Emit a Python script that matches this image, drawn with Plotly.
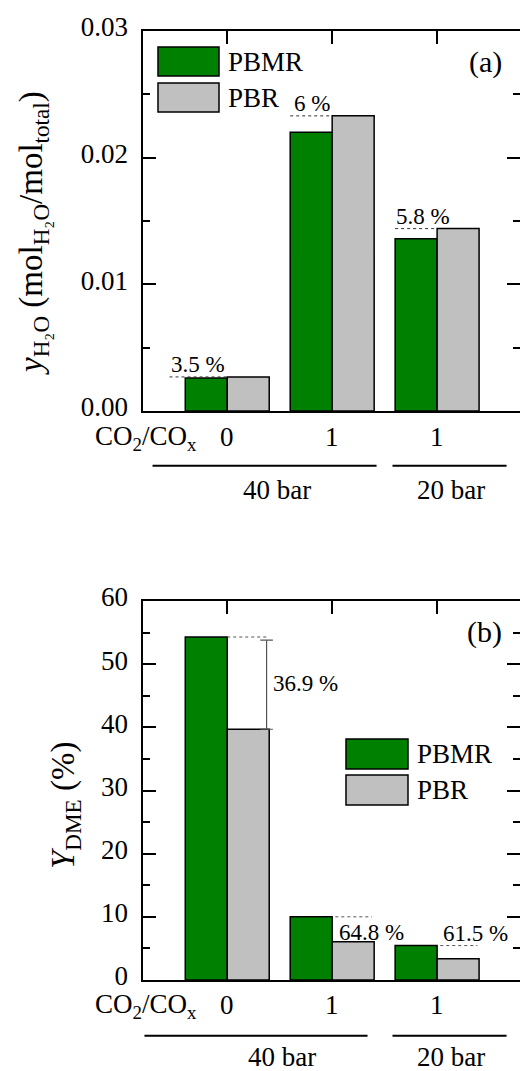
import plotly.graph_objects as go

# ---------------- data ----------------
cat_x = [0, 1, 2]
cat_labels = ["0", "1", "1"]
groups = ["40 bar", "20 bar"]

h2o_pbmr = [0.0026, 0.0220, 0.0136]
h2o_pbr = [0.00269, 0.0233, 0.0144]
h2o_pct = ["3.5 %", "6 %", "5.8 %"]

dme_pbmr = [54.3, 10.0, 5.45]
dme_pbr = [39.7, 6.07, 3.37]
dme_pct = ["36.9 %", "64.8 %", "61.5 %"]

top_ticks = [0.0, 0.01, 0.02, 0.03]
bot_ticks = [0, 10, 20, 30, 40, 50, 60]

# ---------------- style ----------------
W, H = 520, 1071
FONT = "Liberation Serif"
GREEN = "#008000"
GRAY = "#c0c0c0"


def px(x):
    return x / W


def py(y):
    return 1 - y / H


fig = go.Figure()
for vals_g, vals_r, xa, ya in [(h2o_pbmr, h2o_pbr, "x", "y"), (dme_pbmr, dme_pbr, "x2", "y2")]:
    fig.add_trace(go.Bar(x=cat_x, y=vals_g, name="PBMR", marker=dict(color=GREEN, line=dict(color="black", width=1.5)),
                         xaxis=xa, yaxis=ya, showlegend=False, offsetgroup="a"))
    fig.add_trace(go.Bar(x=cat_x, y=vals_r, name="PBR", marker=dict(color=GRAY, line=dict(color="black", width=1.5)),
                         xaxis=xa, yaxis=ya, showlegend=False, offsetgroup="b"))
# empty traces to register the right-hand tick axes
fig.add_trace(go.Scatter(x=[], y=[], xaxis="x", yaxis="y3", showlegend=False))
fig.add_trace(go.Scatter(x=[], y=[], xaxis="x2", yaxis="y4", showlegend=False))

xcommon = dict(range=[-0.8, 2.79], domain=[143.3 / W, 1.0], side="top", ticks="inside", tickvals=cat_x,
               ticklen=13, tickwidth=2, tickcolor="black", showticklabels=False, showline=True,
               linewidth=2, linecolor="black", mirror=True, showgrid=False, zeroline=False, automargin=False)
ycommon = dict(ticks="inside", ticklen=13, tickwidth=2, tickcolor="black", showline=True, linewidth=2,
               linecolor="black", mirror=False, showgrid=False, zeroline=False, automargin=False,
               tickfont=dict(family=FONT, size=27, color="black"), ticklabelshift=-4, ticklabelstandoff=8)
yright = dict(side="right", ticks="inside", ticklen=13, tickwidth=2, tickcolor="black", showline=False,
              showticklabels=False, showgrid=False, zeroline=False, automargin=False)

top_dom = [py(411), py(31)]
bot_dom = [py(980), py(601)]
top_minor = dict(ticks="inside", ticklen=7, tickwidth=2, tickcolor="black", tick0=0, dtick=0.005)
bot_minor = dict(ticks="inside", ticklen=7, tickwidth=2, tickcolor="black", tick0=0, dtick=5)

fig.update_layout(
    template="none",
    width=W, height=H, margin=dict(l=0, r=0, t=0, b=0, pad=0),
    paper_bgcolor="white", plot_bgcolor="white",
    barmode="group", bargap=0.2, bargroupgap=0,
    font=dict(family=FONT, size=27, color="black"),
    xaxis=dict(**xcommon, anchor="y"),
    xaxis2=dict(**xcommon, anchor="y2"),
    yaxis=dict(**ycommon, anchor="x", domain=top_dom, range=[0, 0.03], tickvals=top_ticks,
               tickformat=".2f", minor=top_minor),
    yaxis2=dict(**ycommon, anchor="x2", domain=bot_dom, range=[0, 60], tickvals=bot_ticks, minor=bot_minor),
    yaxis3=dict(**yright, anchor="x", overlaying="y", range=[0, 0.03], tickvals=top_ticks, minor=top_minor),
    yaxis4=dict(**yright, anchor="x2", overlaying="y2", range=[0, 60], tickvals=bot_ticks, minor=bot_minor),
)

shapes = []
ann = []

# ---- comparison markers, top panel (PBR above PBMR) ----
top_x0 = [-0.55, 0.6, 1.6]
top_lx = [-0.28, 0.81, 1.87]
for i in range(3):
    shapes.append(dict(type="line", xref="x", yref="y", x0=top_x0[i], x1=cat_x[i], y0=h2o_pbr[i], y1=h2o_pbr[i],
                       line=dict(color="#333333", width=1, dash="dot")))
    ann.append(dict(xref="x", yref="y", x=top_lx[i], y=h2o_pbr[i], text=h2o_pct[i], showarrow=False,
                    xanchor="center", yanchor="bottom", yshift=-2, font=dict(family=FONT, size=23)))

# ---- comparison markers, bottom panel ----
bx = 0.375
shapes.append(dict(type="line", xref="x2", yref="y2", x0=0, x1=bx + 0.02, y0=dme_pbmr[0], y1=dme_pbmr[0],
                   line=dict(color="#555555", width=1, dash="dot")))
shapes.append(dict(type="line", xref="x2", yref="y2", x0=bx, x1=bx, y0=dme_pbr[0], y1=dme_pbmr[0] - 0.5,
                   line=dict(color="#555555", width=1.2)))
for yy in [dme_pbr[0], dme_pbmr[0] - 0.5]:
    shapes.append(dict(type="line", xref="x2", yref="y2", x0=bx - 0.06, x1=bx + 0.06, y0=yy, y1=yy,
                       line=dict(color="#555555", width=1.2)))
ann.append(dict(xref="x2", yref="y2", x=bx + 0.04, y=(dme_pbr[0] + dme_pbmr[0]) / 2, text=dme_pct[0],
                showarrow=False, xanchor="left", yanchor="middle", font=dict(family=FONT, size=23)))
bot_x1 = [None, 1.38, 2.385]
bot_lx = [None, 1.37, 2.37]
bot_anchor = [None, "top", "bottom"]
for i in [1, 2]:
    shapes.append(dict(type="line", xref="x2", yref="y2", x0=cat_x[i] + 0.03, x1=bot_x1[i], y0=dme_pbmr[i],
                       y1=dme_pbmr[i], line=dict(color="#555555", width=1, dash="dot")))
    ann.append(dict(xref="x2", yref="y2", x=bot_lx[i], y=dme_pbmr[i], text=dme_pct[i], showarrow=False,
                    xanchor="center", yanchor=bot_anchor[i], yshift=(-1 if bot_anchor[i] == "top" else -2),
                    font=dict(family=FONT, size=23)))

# ---- category labels, group lines, group labels ----
for xa, cy, ly, gy, spans, gcent in [("x", 437, 465.7, 490, [(-0.712, 1.423), (1.575, 2.662)], [0.47, 2.13]),
                                     ("x2", 1005, 1035.7, 1057, [(-0.789, 1.337), (1.575, 2.662)], [0.52, 2.13])]:
    for i in range(3):
        ann.append(dict(xref=xa, yref="paper", x=cat_x[i], y=py(cy), text=cat_labels[i], showarrow=False,
                        xanchor="center", yanchor="middle", font=dict(family=FONT, size=27)))
    ann.append(dict(xref="paper", yref="paper", x=px(199), y=py(cy + 1), text="CO<sub>2</sub>/CO<sub>x</sub>",
                    showarrow=False, xanchor="right", yanchor="middle", font=dict(family=FONT, size=27)))
    for (a, b), g, gc in zip(spans, groups, gcent):
        shapes.append(dict(type="line", xref=xa, yref="paper", x0=a, x1=b, y0=py(ly), y1=py(ly),
                           line=dict(color="black", width=2)))
        ann.append(dict(xref=xa, yref="paper", x=gc, y=py(gy), text=g, showarrow=False, xanchor="center",
                        yanchor="middle", font=dict(family=FONT, size=27)))

# ---- legends (drawn as boxes) ----
for bx0, bx1, rows, tx in [(158, 219, [(47, 76), (83, 112)], 226), (346, 408, [(739, 769), (775, 805)], 415)]:
    for (y0, y1), col, name in zip(rows, [GREEN, GRAY], ["PBMR", "PBR"]):
        shapes.append(dict(type="rect", xref="paper", yref="paper", x0=px(bx0), x1=px(bx1), y0=py(y1), y1=py(y0),
                           fillcolor=col, line=dict(color="black", width=1.5)))
        ann.append(dict(xref="paper", yref="paper", x=px(tx), y=py((y0 + y1) / 2), text=name, showarrow=False,
                        xanchor="left", yanchor="middle", font=dict(family=FONT, size=27)))

# ---- panel labels ----
ann.append(dict(xref="paper", yref="paper", x=px(504), y=py(62), text="(a)", showarrow=False, xanchor="right",
                yanchor="middle", font=dict(family=FONT, size=30)))
ann.append(dict(xref="paper", yref="paper", x=px(504), y=py(632), text="(b)", showarrow=False, xanchor="right",
                yanchor="middle", font=dict(family=FONT, size=30)))

# ---- y titles ----
ann.append(dict(xref="paper", yref="paper", x=px(33), y=py(233),
                text="<i>y</i><sub>H₂O</sub> (mol<sub>H₂O</sub>/mol<sub>total</sub>)", textangle=-90,
                showarrow=False, xanchor="center", yanchor="middle", font=dict(family=FONT, size=33)))
ann.append(dict(xref="paper", yref="paper", x=px(65), y=py(806),
                text="<i>Y</i><sub>DME</sub> (%)", textangle=-90,
                showarrow=False, xanchor="center", yanchor="middle", font=dict(family=FONT, size=33)))

fig.update_layout(shapes=shapes, annotations=ann)
fig.write_html("out.html")
